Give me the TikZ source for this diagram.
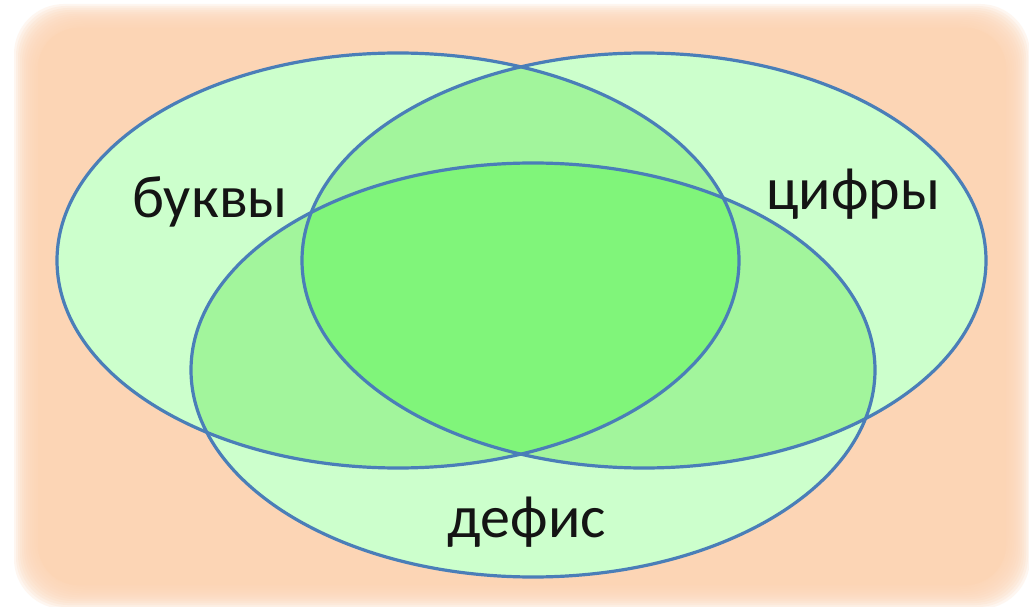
\documentclass[tikz,border=0pt]{standalone}
\usepackage{fontspec}
\setmainfont{Carlito}
\definecolor{peach}{HTML}{FCD5B5}
\definecolor{singlegreen}{HTML}{CCFFCC}
\definecolor{doublegreen}{HTML}{A2F59C}
\definecolor{triplegreen}{HTML}{80F57A}
\definecolor{rimblue}{HTML}{4A7EB8}
\definecolor{inkblack}{HTML}{141414}
\tikzset{
  rim/.style={draw=rimblue, line width=3.2pt},
  setlabel/.style={font=\fontsize{60}{66}\selectfont, text=inkblack, anchor=base, inner sep=0pt},
}
\def\EllA{(398,260.5) ellipse [x radius=341pt, y radius=207.5pt]}
\def\EllB{(644,260.5) ellipse [x radius=342pt, y radius=207.5pt]}
\def\EllC{(533,370) ellipse [x radius=342pt, y radius=207pt]}
\begin{document}
\begin{tikzpicture}[x=1pt,y=-1pt]
\useasboundingbox (0,0) rectangle (1029,607);
\fill[white] (0,0) rectangle (1029,607);
% soft-edged peach background
\foreach \k in {0,...,11} {
  \fill[peach, opacity=0.2, rounded corners=50pt]
    ({14+2*\k},{4+2*\k}) rectangle ({1030-2*\k},{609-2*\k});
}
\fill[peach, rounded corners=40pt] (38,28) rectangle (1006,585);
% regions
\fill[singlegreen] \EllA;
\fill[singlegreen] \EllB;
\fill[singlegreen] \EllC;
\begin{scope}
  \clip \EllA;
  \fill[doublegreen] \EllB;
  \fill[doublegreen] \EllC;
\end{scope}
\begin{scope}
  \clip \EllB;
  \fill[doublegreen] \EllC;
\end{scope}
\begin{scope}
  \clip \EllA;
  \clip \EllB;
  \fill[triplegreen] \EllC;
\end{scope}
% outlines
\draw[rim] \EllA;
\draw[rim] \EllB;
\draw[rim] \EllC;
% labels
\node[setlabel] (letters) at (210,218) {буквы};
\node[setlabel] (digits) at (853,210) {цифры};
\node[setlabel] (hyphen) at (527,537) {дефис};
\end{tikzpicture}
\end{document}
